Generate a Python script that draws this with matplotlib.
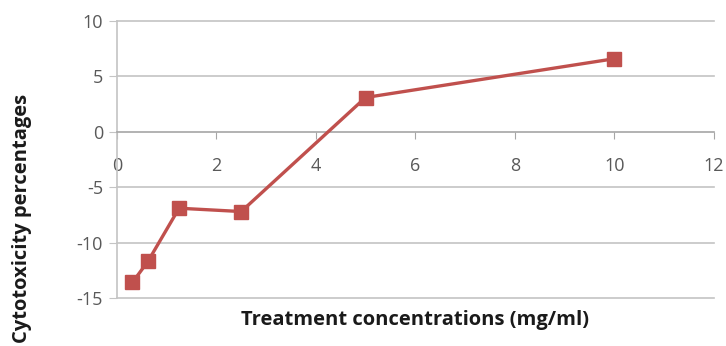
import matplotlib
matplotlib.use("Agg")
import matplotlib.pyplot as plt

conc = [0.3125, 0.625, 1.25, 2.5, 5, 10]
cyto = [-13.6, -11.7, -6.9, -7.2, 3.1, 6.6]
xticks = [0, 2, 4, 6, 8, 10, 12]
yticks = [-15, -10, -5, 0, 5, 10]

plt.rcParams['font.family'] = ['Open Sans', 'DejaVu Sans']
plt.rcParams['axes.unicode_minus'] = False
fig = plt.figure(figsize=(7.26, 3.46), dpi=100)
ax = fig.add_axes([0.161, 0.139, 0.822, 0.8])
ax.set_xlim(0, 12)
ax.set_ylim(-15, 10)
ax.set_yticks(yticks)
ax.set_xticks(xticks)
for y in yticks:
    if y != 0:
        ax.axhline(y, color='#c4c4c4', lw=1.2, zorder=0, clip_on=False)
ax.spines['top'].set_visible(False)
ax.spines['right'].set_visible(False)
ax.spines['bottom'].set_position(('data', 0))
ax.spines['bottom'].set_color('#a6a6a6')
ax.spines['bottom'].set_linewidth(1.2)
ax.spines['left'].set_color('#c4c4c4')
ax.spines['left'].set_linewidth(1.2)
ax.tick_params(axis='x', direction='out', length=5, color='#a6a6a6', labelsize=13, labelcolor='#595959', pad=13)
ax.tick_params(axis='y', direction='out', length=6, color='#c4c4c4', labelsize=13, labelcolor='#595959', pad=4)
ax.plot(conc, cyto, color='#c0504d', lw=2.4, marker='s', markersize=10,
        markerfacecolor='#c0504d', markeredgecolor='#c0504d', clip_on=False, zorder=3)
fig.text(0.571, 0.075, 'Treatment concentrations (mg/ml)', ha='center', va='center',
         fontsize=14.5, fontweight='bold', color='#1a1a1a')
fig.text(0.03, 0.37, 'Cytotoxicity percentages', ha='center', va='center', rotation=90,
         fontsize=14.5, fontweight='bold', color='#1a1a1a')
fig.savefig('out.png', dpi=100)
